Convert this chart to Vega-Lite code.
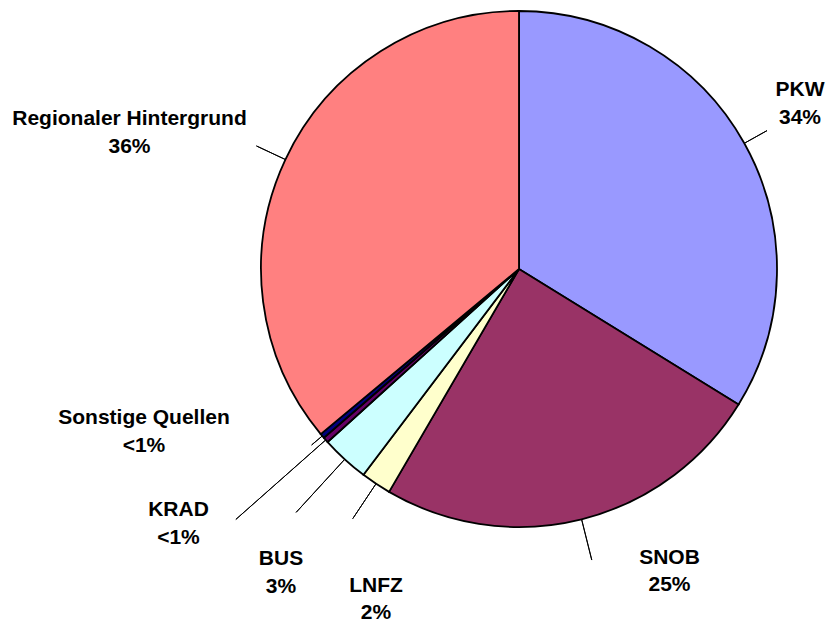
{
  "$schema": "https://vega.github.io/schema/vega-lite/v6.json",
  "width": 516,
  "height": 516,
  "autosize": "none",
  "padding": {"left": 261, "top": 11, "right": 52, "bottom": 95},
  "background": "white",
  "config": {"view": {"stroke": null}},
  "data": {
    "values": [
      {"idx": 1, "name": "PKW", "value": 33.8, "label": "PKW\n34%"},
      {"idx": 2, "name": "SNOB", "value": 24.6, "label": "SNOB\n25%"},
      {"idx": 3, "name": "LNFZ", "value": 1.9, "label": "LNFZ\n2%"},
      {"idx": 4, "name": "BUS", "value": 3.0, "label": "BUS\n3%"},
      {"idx": 5, "name": "KRAD", "value": 0.35, "label": "KRAD\n<1%"},
      {"idx": 6, "name": "Sonstige Quellen", "value": 0.3, "label": "Sonstige Quellen\n<1%"},
      {"idx": 7, "name": "Regionaler Hintergrund", "value": 36.05, "label": "Regionaler Hintergrund\n36%"}
    ]
  },
  "transform": [
    {"stack": "value", "groupby": [], "sort": [{"field": "idx", "order": "ascending"}], "as": ["start", "end"]}
  ],
  "layer": [
    {
      "mark": {"type": "arc", "stroke": "black", "strokeWidth": 1.8},
      "encoding": {
        "theta": {"field": "start", "type": "quantitative", "stack": null, "scale": {"domain": [0, 100]}},
        "theta2": {"field": "end"},
        "color": {
          "field": "name", "type": "nominal", "legend": null,
          "scale": {
            "domain": ["PKW", "SNOB", "LNFZ", "BUS", "KRAD", "Sonstige Quellen", "Regionaler Hintergrund"],
            "range": ["#9999FF", "#993366", "#FFFFCC", "#CCFFFF", "#660066", "#000080", "#FF8080"]
          }
        }
      }
    },
    {"transform": [{"filter": "datum.name === 'PKW'"}], "mark": {"type": "arc", "padAngle": 3, "radius": 284, "radius2": 258, "stroke": "black", "strokeWidth": 1, "fillOpacity": 0}, "encoding": {"theta": {"field": "start", "type": "quantitative", "stack": null}, "theta2": {"field": "end"}}},
    {"transform": [{"filter": "datum.name === 'SNOB'"}], "mark": {"type": "arc", "padAngle": 3, "radius": 300, "radius2": 258, "stroke": "black", "strokeWidth": 1, "fillOpacity": 0}, "encoding": {"theta": {"field": "start", "type": "quantitative", "stack": null}, "theta2": {"field": "end"}}},
    {"transform": [{"filter": "datum.name === 'LNFZ'"}], "mark": {"type": "arc", "padAngle": 3, "radius": 300, "radius2": 258, "stroke": "black", "strokeWidth": 1, "fillOpacity": 0}, "encoding": {"theta": {"field": "start", "type": "quantitative", "stack": null}, "theta2": {"field": "end"}}},
    {"transform": [{"filter": "datum.name === 'BUS'"}], "mark": {"type": "arc", "padAngle": 3, "radius": 330, "radius2": 258, "stroke": "black", "strokeWidth": 1, "fillOpacity": 0}, "encoding": {"theta": {"field": "start", "type": "quantitative", "stack": null}, "theta2": {"field": "end"}}},
    {"transform": [{"filter": "datum.name === 'KRAD'"}], "mark": {"type": "arc", "padAngle": 3, "radius": 378, "radius2": 258, "stroke": "black", "strokeWidth": 1, "fillOpacity": 0}, "encoding": {"theta": {"field": "start", "type": "quantitative", "stack": null}, "theta2": {"field": "end"}}},
    {"transform": [{"filter": "datum.name === 'Sonstige Quellen'"}], "mark": {"type": "arc", "padAngle": 3, "radius": 272, "radius2": 258, "stroke": "black", "strokeWidth": 1, "fillOpacity": 0}, "encoding": {"theta": {"field": "start", "type": "quantitative", "stack": null}, "theta2": {"field": "end"}}},
    {"transform": [{"filter": "datum.name === 'Regionaler Hintergrund'"}], "mark": {"type": "arc", "padAngle": 3, "radius": 290, "radius2": 258, "stroke": "black", "strokeWidth": 1, "fillOpacity": 0}, "encoding": {"theta": {"field": "start", "type": "quantitative", "stack": null}, "theta2": {"field": "end"}}},
    {"transform": [{"filter": "datum.name === 'PKW'"}], "mark": {"type": "text", "radius": 332.9, "thetaOffset": 1.0048, "font": "Liberation Sans", "fontWeight": "bold", "fontSize": 21, "lineBreak": "\n", "lineHeight": 27.5, "align": "center", "baseline": "middle", "color": "black"}, "encoding": {"theta": {"field": "start", "type": "quantitative", "stack": null}, "text": {"field": "label"}}},
    {"transform": [{"filter": "datum.name === 'SNOB'"}], "mark": {"type": "text", "radius": 325.8, "thetaOffset": 0.5377, "font": "Liberation Sans", "fontWeight": "bold", "fontSize": 21, "lineBreak": "\n", "lineHeight": 27.5, "align": "center", "baseline": "middle", "color": "black"}, "encoding": {"theta": {"field": "start", "type": "quantitative", "stack": null}, "text": {"field": "label"}}},
    {"transform": [{"filter": "datum.name === 'LNFZ'"}], "mark": {"type": "text", "radius": 347.6, "thetaOffset": -0.1038, "font": "Liberation Sans", "fontWeight": "bold", "fontSize": 21, "lineBreak": "\n", "lineHeight": 27.5, "align": "center", "baseline": "middle", "color": "black"}, "encoding": {"theta": {"field": "start", "type": "quantitative", "stack": null}, "text": {"field": "label"}}},
    {"transform": [{"filter": "datum.name === 'BUS'"}], "mark": {"type": "text", "radius": 375.3, "thetaOffset": 0.0398, "font": "Liberation Sans", "fontWeight": "bold", "fontSize": 21, "lineBreak": "\n", "lineHeight": 27.5, "align": "center", "baseline": "middle", "color": "black"}, "encoding": {"theta": {"field": "start", "type": "quantitative", "stack": null}, "text": {"field": "label"}}},
    {"transform": [{"filter": "datum.name === 'KRAD'"}], "mark": {"type": "text", "radius": 417.3, "thetaOffset": 0.1189, "font": "Liberation Sans", "fontWeight": "bold", "fontSize": 21, "lineBreak": "\n", "lineHeight": 27.5, "align": "center", "baseline": "middle", "color": "black"}, "encoding": {"theta": {"field": "start", "type": "quantitative", "stack": null}, "text": {"field": "label"}}},
    {"transform": [{"filter": "datum.name === 'Sonstige Quellen'"}], "mark": {"type": "text", "radius": 403.7, "thetaOffset": 0.3339, "font": "Liberation Sans", "fontWeight": "bold", "fontSize": 21, "lineBreak": "\n", "lineHeight": 27.5, "align": "center", "baseline": "middle", "color": "black"}, "encoding": {"theta": {"field": "start", "type": "quantitative", "stack": null}, "text": {"field": "label"}}},
    {"transform": [{"filter": "datum.name === 'Regionaler Hintergrund'"}], "mark": {"type": "text", "radius": 417.3, "thetaOffset": 1.0615, "font": "Liberation Sans", "fontWeight": "bold", "fontSize": 21, "lineBreak": "\n", "lineHeight": 27.5, "align": "center", "baseline": "middle", "color": "black"}, "encoding": {"theta": {"field": "start", "type": "quantitative", "stack": null}, "text": {"field": "label"}}}
  ]
}
